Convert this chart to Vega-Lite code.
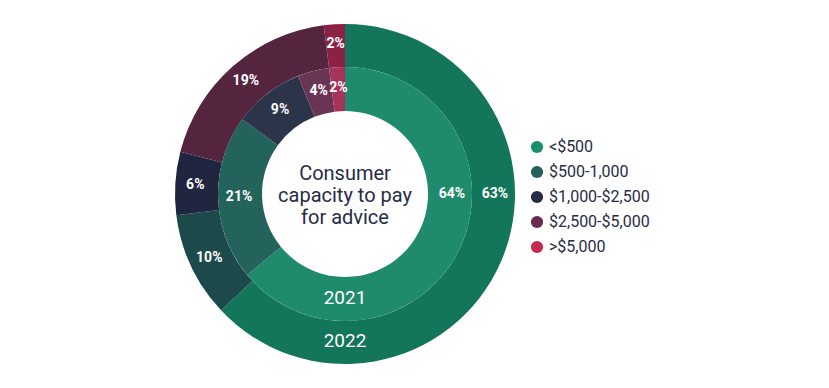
{
  "$schema": "https://vega.github.io/schema/vega-lite/v6.json",
  "width": 690,
  "height": 388,
  "padding": 0,
  "autosize": "none",
  "background": "white",
  "config": {"view": {"stroke": null}, "font": "Roboto"},
  "data": {
    "values": [
      {"year": "2022", "category": "<$500", "rank": 1, "value": 63},
      {"year": "2022", "category": "$500-1,000", "rank": 2, "value": 10},
      {"year": "2022", "category": "$1,000-$2,500", "rank": 3, "value": 6},
      {"year": "2022", "category": "$2,500-$5,000", "rank": 4, "value": 19},
      {"year": "2022", "category": ">$5,000", "rank": 5, "value": 2},
      {"year": "2021", "category": "<$500", "rank": 1, "value": 64},
      {"year": "2021", "category": "$500-1,000", "rank": 2, "value": 21},
      {"year": "2021", "category": "$1,000-$2,500", "rank": 3, "value": 9},
      {"year": "2021", "category": "$2,500-$5,000", "rank": 4, "value": 4},
      {"year": "2021", "category": ">$5,000", "rank": 5, "value": 2}
    ]
  },
  "transform": [{"calculate": "datum.value + '%'", "as": "label"}],
  "layer": [
    {
      "transform": [{"filter": "datum.year === '2022'"}],
      "mark": {"type": "arc", "radius": 170, "radius2": 127},
      "encoding": {
        "theta": {"field": "value", "type": "quantitative", "stack": true},
        "order": {"field": "rank", "type": "quantitative"},
        "color": {
          "field": "category", "type": "nominal",
          "scale": {"domain": ["<$500", "$500-1,000", "$1,000-$2,500", "$2,500-$5,000", ">$5,000"],
                    "range": ["#13765b", "#1c4a4b", "#202540", "#55253f", "#8c2146"]},
          "legend": null
        }
      }
    },
    {
      "transform": [{"filter": "datum.year === '2021'"}],
      "mark": {"type": "arc", "radius": 127, "radius2": 83},
      "encoding": {
        "theta": {"field": "value", "type": "quantitative", "stack": true},
        "order": {"field": "rank", "type": "quantitative"},
        "color": {
          "field": "category", "type": "nominal",
          "scale": {"domain": ["<$500", "$500-1,000", "$1,000-$2,500", "$2,500-$5,000", ">$5,000"],
                    "range": ["#1f8a6c", "#24625c", "#2c344a", "#6a3455", "#a6345a"]},
          "legend": null
        }
      }
    },
    {
      "transform": [{"filter": "datum.year === '2021'"}],
      "mark": {"type": "arc", "radius": 0, "radius2": 0},
      "encoding": {
        "theta": {"field": "value", "type": "quantitative", "stack": true},
        "order": {"field": "rank", "type": "quantitative"},
        "color": {
          "field": "category", "type": "nominal",
          "scale": {"domain": ["<$500", "$500-1,000", "$1,000-$2,500", "$2,500-$5,000", ">$5,000"],
                    "range": ["#1a8f6e", "#22615c", "#262b46", "#6b2a4e", "#c42a52"]},
          "legend": {
            "title": null, "orient": "none", "legendX": 529, "legendY": 139,
            "symbolType": "circle", "symbolSize": 150, "symbolStrokeWidth": 0,
            "labelFont": "Roboto", "labelFontSize": 16, "labelColor": "#272c45",
            "labelOffset": 4, "rowPadding": 9, "padding": 0
          }
        }
      }
    },
    {
      "transform": [{"filter": "datum.year === '2022'"}],
      "mark": {"type": "text", "radius": 150, "color": "white", "fontWeight": "bold", "fontSize": 14},
      "encoding": {
        "theta": {"field": "value", "type": "quantitative", "stack": true},
        "order": {"field": "rank", "type": "quantitative"},
        "text": {"condition": {"test": "datum.category === '<$500'", "value": ""}, "field": "label"}
      }
    },
    {
      "transform": [{"filter": "datum.year === '2021'"}],
      "mark": {"type": "text", "radius": 106, "color": "white", "fontWeight": "bold", "fontSize": 14},
      "encoding": {
        "theta": {"field": "value", "type": "quantitative", "stack": true},
        "order": {"field": "rank", "type": "quantitative"},
        "text": {"condition": {"test": "datum.category === '<$500'", "value": ""}, "field": "label"}
      }
    },
    {
      "transform": [{"filter": "datum.year === '2022' && datum.category === '<$500'"}],
      "mark": {"type": "text", "theta": 1.5708, "radius": 150, "color": "white", "fontWeight": "bold", "fontSize": 14},
      "encoding": {"text": {"field": "label"}}
    },
    {
      "transform": [{"filter": "datum.year === '2021' && datum.category === '<$500'"}],
      "mark": {"type": "text", "theta": 1.5708, "radius": 107, "color": "white", "fontWeight": "bold", "fontSize": 14},
      "encoding": {"text": {"field": "label"}}
    },
    {
      "transform": [{"filter": "datum.year === '2022' && datum.category === '<$500'"}],
      "mark": {"type": "text", "theta": 3.14159, "radius": 147, "color": "white", "fontSize": 19},
      "encoding": {"text": {"field": "year"}}
    },
    {
      "transform": [{"filter": "datum.year === '2021' && datum.category === '<$500'"}],
      "mark": {"type": "text", "theta": 3.14159, "radius": 104, "color": "white", "fontSize": 19},
      "encoding": {"text": {"field": "year"}}
    },
    {
      "transform": [{"filter": "datum.year === '2021' && datum.category === '<$500'"}],
      "mark": {"type": "text", "theta": 0, "radius": 0, "color": "#272c45", "fontSize": 20, "lineHeight": 22, "baseline": "middle", "dy": -20},
      "encoding": {"text": {"value": ["Consumer", "capacity to pay", "for advice"]}}
    }
  ],
  "resolve": {"scale": {"color": "independent"}}
}
